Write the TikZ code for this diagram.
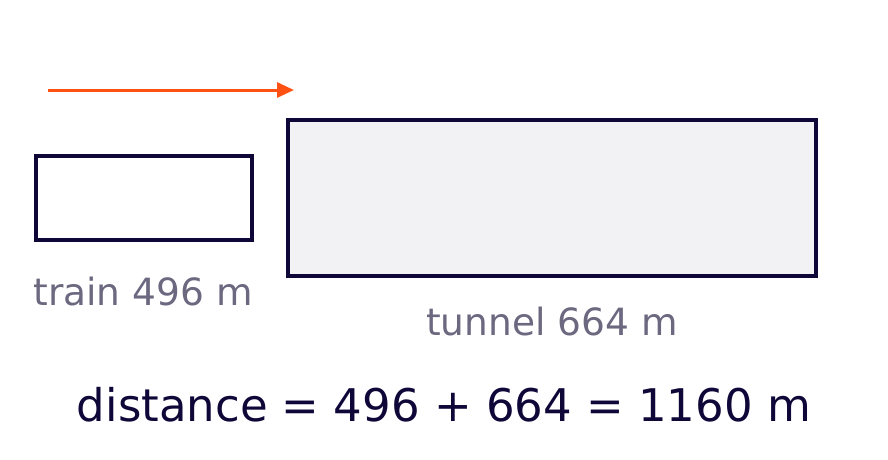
\documentclass[tikz,border=0pt]{standalone}
\usepackage{fontspec}
\setmainfont{DejaVu Sans}
\usetikzlibrary{arrows.meta}

\definecolor{ink}{HTML}{0E0738}
\definecolor{note}{HTML}{6B6880}
\definecolor{move}{HTML}{FF5111}
\definecolor{bore}{HTML}{F2F2F4}

\tikzset{
	block/.style={draw=ink, line width=4pt, rectangle, inner sep=0pt},
	tag/.style={text=note, anchor=base, inner sep=0pt, font=\fontsize{37.5}{45}\selectfont},
}

\begin{document}
\begin{tikzpicture}[x=1pt, y=-1pt]
		\useasboundingbox (0,0) rectangle (888,459);

		\coordinate (go)   at ( 48, 90);
		\coordinate (stop) at (294, 90);
		\draw[move, line width=3pt, -{Triangle[length=17pt,width=15pt]}] (go) -- (stop);

		\node[block, fill=white, minimum width=216pt, minimum height=84pt]  (train)  at (144, 198) {};
		\node[block, fill=bore,  minimum width=528pt, minimum height=156pt] (tunnel) at (552, 198) {};

		\node[tag] (trainlen)  at (143, 305) {train 496 m};
		\node[tag] (tunnellen) at (552, 335) {tunnel 664 m};

		\node[text=ink, anchor=base, inner sep=0pt, font=\fontsize{45}{54}\selectfont] (sum) at (444, 421) {distance = 496 + 664 = 1160 m};
	\end{tikzpicture}
\end{document}
